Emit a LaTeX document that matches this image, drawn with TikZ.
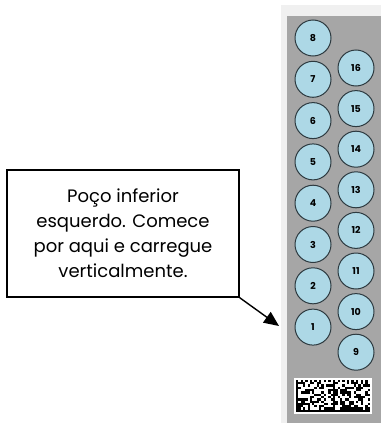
\documentclass[tikz,border=0pt]{standalone}
\usepackage{fontspec}
\setmainfont{Poppins}
\usetikzlibrary{arrows.meta}

\definecolor{platebg}{RGB}{166,166,166}
\definecolor{plateedge}{RGB}{240,240,240}
\definecolor{wellfill}{RGB}{173,216,230}
\definecolor{wellline}{RGB}{45,58,64}

\tikzset{
  well/.style={circle, draw=wellline, line width=1pt, fill=wellfill,
    minimum size=36pt, inner sep=0pt, font=\fontsize{9.5}{11}\selectfont\bfseries},
  callout/.style={draw, line width=1.4pt, fill=white, minimum width=232pt,
    minimum height=127pt, align=center, inner sep=0pt,
    font=\fontsize{18}{25}\selectfont}
}

\begin{document}
\begin{tikzpicture}[x=1pt,y=1pt]
		\useasboundingbox (0,0) rectangle (381,-423);
		% plate
		\fill [plateedge] (281,-5) rectangle (381,-423);
		\fill [platebg] (287,-16) rectangle (381,-423);
		% left column of wells
		\node [well] (w8) at (313,-38) {8};
		\node [well] (w7) at (313,-79.3) {7};
		\node [well] (w6) at (313,-120.6) {6};
		\node [well] (w5) at (313,-161.9) {5};
		\node [well] (w4) at (313,-203.2) {4};
		\node [well] (w3) at (313,-244.5) {3};
		\node [well] (w2) at (313,-285.8) {2};
		\node [well] (w1) at (313,-327.1) {1};
		% right column of wells
		\node [well] (w16) at (356,-68) {16};
		\node [well] (w15) at (356,-108.6) {15};
		\node [well] (w14) at (356,-149.2) {14};
		\node [well] (w13) at (356,-189.8) {13};
		\node [well] (w12) at (356,-230.4) {12};
		\node [well] (w11) at (356,-271) {11};
		\node [well] (w10) at (356,-311.6) {10};
		\node [well] (w9) at (356,-352.2) {9};
		% barcode
		\fill [white] (294,-414) rectangle (372,-378);
		\pgfmathsetseed{17}
		\foreach \b in {0,1} {
			\foreach \i in {0,...,15} {
				\foreach \j in {0,...,13} {
					\pgfmathtruncatemacro{\bit}{(\i==0 || \j==0) ? 1 : ((\j==13) ? mod(\i+1,2) : ((\i==15) ? mod(\j,2) : (rnd<0.5)))}
					\ifnum\bit=1
						\fill [black] ({296+\b*37+\i*2.3},{-412+\j*2.3}) rectangle ++(2.3,2.3);
					\fi
				}
			}
		}
		% callout
		\node [callout] (note) at (123,-233.5) {Poço inferior\\esquerdo. Comece\\por aqui e carregue\\verticalmente.};
		\coordinate (tip) at (279,-326);
		\draw [line width=1.4pt, -{Triangle[length=15pt,width=13pt]}] (note.south east) -- (tip);
\end{tikzpicture}
\end{document}
